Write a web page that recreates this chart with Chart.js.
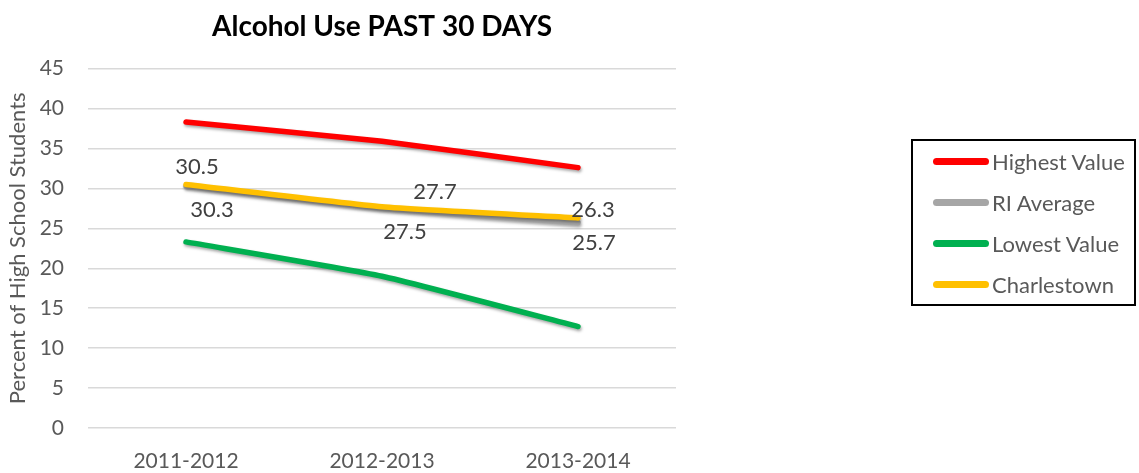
<!DOCTYPE html>
<html>
<head>
<meta charset="utf-8">
<script src="https://cdn.jsdelivr.net/npm/chart.js@4/dist/chart.umd.min.js"></script>
<style>
  body { margin: 0; background: #fff; font-family: Lato, sans-serif; }
  #wrap { position: relative; width: 1139px; height: 473px; }
  #legend {
    position: absolute; left: 911px; top: 139px; width: 225px; height: 167px;
    border: 2px solid #000; box-sizing: border-box; padding-top: 0px;
  }
  .item { display: flex; align-items: center; height: 41px; color: #595959; font-size: 22px; }
  .swatch { width: 56px; height: 7px; border-radius: 4px; margin-left: 20px; margin-right: 3px; }
</style>
</head>
<body>
<div id="wrap">
  <canvas id="alcoholChart" width="1139" height="473"></canvas>
  <div id="legend"></div>
</div>
<script>
const years = ['2011-2012', '2012-2013', '2013-2014'];

const highestValue = [38.3, 35.9, 32.6];
const riAverage = [30.3, 27.5, 25.7];
const lowestValue = [23.3, 19.0, 12.7];
const charlestown = [30.5, 27.7, 26.3];

const yTicks = [0, 5, 10, 15, 20, 25, 30, 35, 40, 45];

// label placement relative to the point (px)
const labelOffsets = {
    'RI Average': [[26, 24], [23, 24], [16, 20]],
    'Charlestown': [[11, -18], [53, -15], [15, -8]]
};

const series = [
    { label: 'Highest Value', data: highestValue, color: '#ff0000', order: 1 },
    { label: 'RI Average', data: riAverage, color: '#a6a6a6', order: 2 },
    { label: 'Lowest Value', data: lowestValue, color: '#00b050', order: 1 },
    { label: 'Charlestown', data: charlestown, color: '#ffc000', order: 0 }
];

const shadowPlugin = {
    id: 'lineShadow',
    beforeDatasetDraw(chart) {
        const ctx = chart.ctx;
        ctx.save();
        ctx.shadowColor = 'rgba(0,0,0,0.35)';
        ctx.shadowBlur = 3;
        ctx.shadowOffsetX = 1;
        ctx.shadowOffsetY = 2;
    },
    afterDatasetDraw(chart) {
        chart.ctx.restore();
    }
};

const valueLabels = {
    id: 'valueLabels',
    afterDatasetsDraw(chart) {
        const ctx = chart.ctx;
        ctx.save();
        ctx.font = '22px Lato';
        ctx.fillStyle = '#404040';
        ctx.textAlign = 'center';
        ctx.textBaseline = 'middle';
        chart.data.datasets.forEach((ds, i) => {
            const offs = labelOffsets[ds.label];
            if (!offs) return;
            chart.getDatasetMeta(i).data.forEach((pt, j) => {
                ctx.fillText(ds.data[j].toFixed(1), pt.x + offs[j][0], pt.y + offs[j][1]);
            });
        });
        ctx.restore();
    }
};

new Chart(document.getElementById('alcoholChart'), {
    type: 'line',
    data: {
        labels: years,
        datasets: series.map(s => ({
            label: s.label,
            data: s.data,
            borderColor: s.color,
            backgroundColor: s.color,
            borderWidth: 5.5,
            borderCapStyle: 'round',
            pointRadius: 0,
            tension: 0.15,
            order: s.order
        }))
    },
    options: {
        responsive: false,
        animation: false,
        layout: { padding: { top: 6, right: 463, bottom: 0, left: 0 } },
        plugins: {
            legend: { display: false },
            tooltip: { enabled: false },
            title: {
                display: true,
                fullSize: false,
                text: 'Alcohol Use PAST 30 DAYS',
                color: '#000',
                font: { family: 'Lato', size: 28, weight: 'bold' },
                padding: { top: 4, bottom: 25 }
            }
        },
        scales: {
            x: {
                offset: true,
                grid: { display: false },
                border: { display: false },
                afterFit(scale) { scale.height = 45; },
                ticks: { color: '#595959', font: { family: 'Lato', size: 21 }, padding: 13, maxRotation: 0 }
            },
            y: {
                min: 0,
                max: 45,
                afterBuildTicks(scale) {
                    scale.ticks = yTicks.map(v => ({ value: v }));
                },
                afterFit(scale) { scale.width = 88; },
                grid: { color: '#d9d9d9', lineWidth: 1.5, drawTicks: false },
                border: { display: false },
                ticks: { color: '#595959', font: { family: 'Lato', size: 21 }, padding: 24 },
                title: {
                    display: true,
                    text: 'Percent of High School Students',
                    color: '#595959',
                    font: { family: 'Lato', size: 22 },
                    padding: { top: 5, bottom: 0 }
                }
            }
        }
    },
    plugins: [shadowPlugin, valueLabels]
});

const legend = document.getElementById('legend');
series.forEach(s => {
    const row = document.createElement('div');
    row.className = 'item';
    const sw = document.createElement('span');
    sw.className = 'swatch';
    sw.style.background = s.color;
    row.appendChild(sw);
    row.appendChild(document.createTextNode(s.label));
    legend.appendChild(row);
});
</script>
</body>
</html>
